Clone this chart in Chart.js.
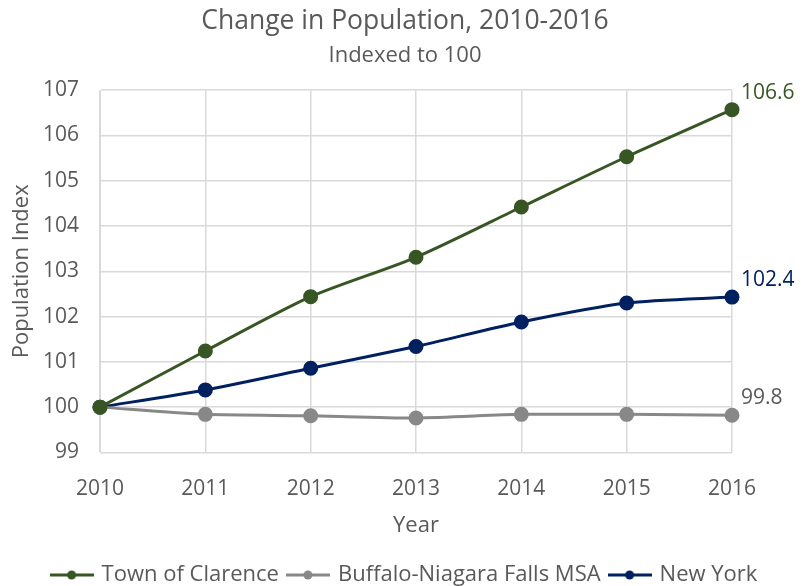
<!DOCTYPE html>
<html>
<head>
<meta charset="utf-8">
<script src="https://cdn.jsdelivr.net/npm/chart.js@4"></script>
<style>
  html, body { margin: 0; padding: 0; background: #fff; }
  #wrap { width: 810px; height: 586px; }
</style>
</head>
<body>
<div id="wrap"><canvas id="popChart" width="810" height="586"></canvas></div>
<script>
// data
const years = ['2010', '2011', '2012', '2013', '2014', '2015', '2016'];
const clarence = [100, 101.24, 102.44, 103.31, 104.42, 105.53, 106.57];
const buffalo = [100, 99.84, 99.81, 99.76, 99.84, 99.84, 99.82];
const newYork = [100, 100.38, 100.86, 101.34, 101.88, 102.30, 102.43];
const endLabels = ['106.6', '99.8', '102.4'];

const green = '#375623';
const grey = '#888888';
const navy = '#002060';
const textGrey = '#595959';
const font = "'Open Sans', 'Noto Sans', sans-serif";

// little line + dot swatch for the legend
function swatch(color) {
  let c = document.createElement('canvas');
  c.width = 44; c.height = 14;
  let ctx = c.getContext('2d');
  ctx.strokeStyle = color;
  ctx.lineWidth = 3;
  ctx.beginPath();
  ctx.moveTo(0, 7); ctx.lineTo(44, 7);
  ctx.stroke();
  ctx.fillStyle = color;
  ctx.beginPath();
  ctx.arc(22, 7, 4.5, 0, Math.PI * 2);
  ctx.fill();
  return c;
}

function makeSet(label, values, color) {
  return {
    label: label,
    data: values,
    borderColor: color,
    backgroundColor: color,
    borderWidth: 3,
    pointRadius: 6,
    pointHoverRadius: 6,
    tension: 0.25,
    clip: false
  };
}

// value labels at the end of each line
const endLabelPlugin = {
  id: 'endLabels',
  afterDatasetsDraw(chart) {
    const ctx = chart.ctx;
    const x = chart.scales.x;
    const y = chart.scales.y;
    ctx.save();
    ctx.font = '21px ' + font;
    ctx.textAlign = 'left';
    ctx.textBaseline = 'middle';
    chart.data.datasets.forEach((ds, i) => {
      const last = ds.data.length - 1;
      const px = x.getPixelForValue(last);
      const py = y.getPixelForValue(ds.data[last]);
      ctx.fillStyle = i === 1 ? textGrey : ds.borderColor;
      ctx.fillText(endLabels[i], px + 9, py - 17);
    });
    ctx.restore();
  }
};

const config = {
  type: 'line',
  data: {
    labels: years,
    datasets: [
      makeSet('Town of Clarence', clarence, green),
      makeSet('Buffalo-Niagara Falls MSA', buffalo, grey),
      makeSet('New York', newYork, navy)
    ]
  },
  options: {
    responsive: false,
    animation: false,
    layout: { padding: { left: 0, right: 0, top: 0, bottom: -10 } },
    plugins: {
      title: {
        display: true,
        text: 'Change in Population, 2010-2016',
        color: textGrey,
        font: { family: font, size: 26.5, weight: 'normal' },
        padding: { top: 6, bottom: 2 }
      },
      subtitle: {
        display: true,
        text: 'Indexed to 100',
        color: textGrey,
        font: { family: font, size: 22, weight: 'normal' },
        padding: { top: 3, bottom: 21 }
      },
      legend: {
        position: 'bottom',
        labels: {
          color: textGrey,
          font: { family: font, size: 22 },
          usePointStyle: true,
          pointStyleWidth: 38,
          padding: 10,
          generateLabels(chart) {
            return chart.data.datasets.map((ds, i) => ({
              text: ds.label,
              fontColor: textGrey,
              pointStyle: swatch(ds.borderColor),
              strokeStyle: ds.borderColor,
              fillStyle: ds.borderColor,
              lineWidth: 0,
              datasetIndex: i,
              hidden: false
            }));
          }
        }
      },
      tooltip: { enabled: false }
    },
    scales: {
      x: {
        grid: { color: '#d9d9d9', lineWidth: 1.5, drawTicks: true, tickLength: 24, tickColor: 'rgba(0,0,0,0)' },
        border: { color: '#d9d9d9' },
        ticks: { color: textGrey, font: { family: font, size: 21 }, padding: 0 },
        title: { display: true, text: 'Year', color: textGrey, font: { family: font, size: 22 }, padding: { top: 11, bottom: 15 } }
      },
      y: {
        min: 99,
        max: 107,
        grid: { color: '#d9d9d9', lineWidth: 1.5, drawTicks: false },
        border: { color: '#d9d9d9' },
        ticks: { stepSize: 1, color: textGrey, font: { family: font, size: 21 }, padding: 21 },
        title: { display: true, text: 'Population Index', color: textGrey, font: { family: font, size: 22 }, padding: { top: 9, bottom: 4 } },
        afterFit(scale) { scale.width = 100; }
      },
      // empty right axis, only keeps room for the end labels
      y2: {
        position: 'right',
        min: 99,
        max: 107,
        grid: { drawOnChartArea: false, drawTicks: false },
        border: { display: false },
        ticks: { display: false },
        afterFit(scale) { scale.width = 78; }
      }
    }
  },
  plugins: [endLabelPlugin]
};

const popChart = new Chart(document.getElementById('popChart'), config);
</script>
</body>
</html>
